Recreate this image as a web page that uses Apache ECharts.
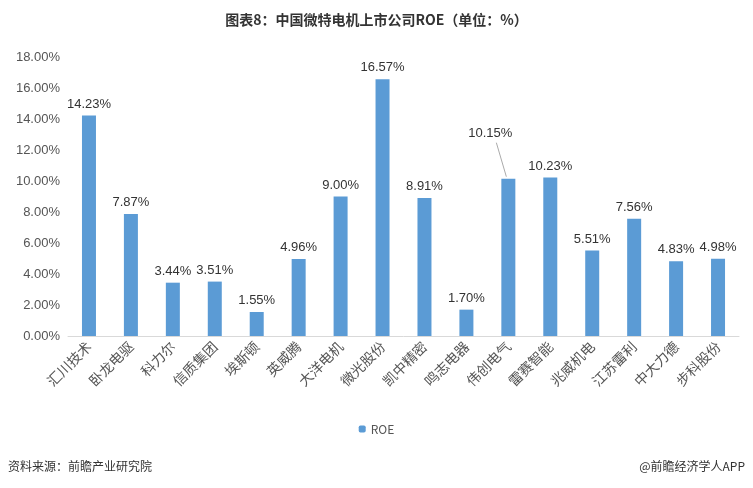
<!DOCTYPE html><html><head><meta charset="utf-8"><script src="https://cdn.jsdelivr.net/npm/echarts@6/dist/echarts.min.js"></script></head><body style="margin:0"><div id="c" style="width:753px;height:488px"></div><script>
const categories=["汇川技术","卧龙电驱","科力尔","信质集团","埃斯顿","英威腾","大洋电机","微光股份","凯中精密","鸣志电器","伟创电气","雷赛智能","兆威机电","江苏雷利","中大力德","步科股份"];
const roe=[14.23,7.87,3.44,3.51,1.55,4.96,9.00,16.57,8.91,1.70,10.15,10.23,5.51,7.56,4.83,4.98];
const yTicks=[0,2,4,6,8,10,12,14,16,18];
const ch=echarts.init(document.getElementById('c'));
const F='"Microsoft YaHei","Noto Sans CJK SC",sans-serif';
ch.setOption({
title:{text:'图表8：中国微特电机上市公司ROE（单位：%）',left:'center',top:8,textStyle:{fontSize:14,fontWeight:'bold',color:'#333',fontFamily:F}},
legend:{bottom:48,data:['ROE'],itemWidth:7,itemHeight:7,textStyle:{fontSize:12,color:'#555',fontFamily:F}},
grid:{left:68,right:14,top:57,bottom:152},
xAxis:{type:'category',data:categories,axisTick:{show:false},axisLine:{lineStyle:{color:'#d9d9d9'}},axisLabel:{rotate:45,fontSize:14,color:'#555',fontFamily:F,interval:0}},
yAxis:{type:'value',min:0,max:18,interval:2,splitLine:{show:false},axisLine:{show:false},axisLabel:{fontSize:13,color:'#555',formatter:v=>v.toFixed(2)+'%'}},
series:[{name:'ROE',type:'bar',barWidth:14,itemStyle:{color:'#5B9BD5'},
data:roe.map((v,i)=>i===10?{value:v,label:{offset:[-18,-34]}}:v),
label:{show:true,position:'top',fontSize:13,color:'#333',formatter:p=>p.value.toFixed(2)+'%'}}],
graphic:[
{type:'text',left:8,top:460,style:{text:'资料来源：前瞻产业研究院',fontSize:12,fill:'#333',fontFamily:F}},
{type:'text',right:8,top:460,style:{text:'@前瞻经济学人APP',fontSize:12,fill:'#333',fontFamily:F}}
]});
const p=ch.convertToPixel({xAxisIndex:0,yAxisIndex:0},[10,roe[10]]);
ch.setOption({graphic:[{},{},{type:'line',shape:{x1:p[0]-12,y1:p[1]-36,x2:p[0]-2,y2:p[1]-2},style:{stroke:'#aaa',lineWidth:1}}]});
</script></body></html>
